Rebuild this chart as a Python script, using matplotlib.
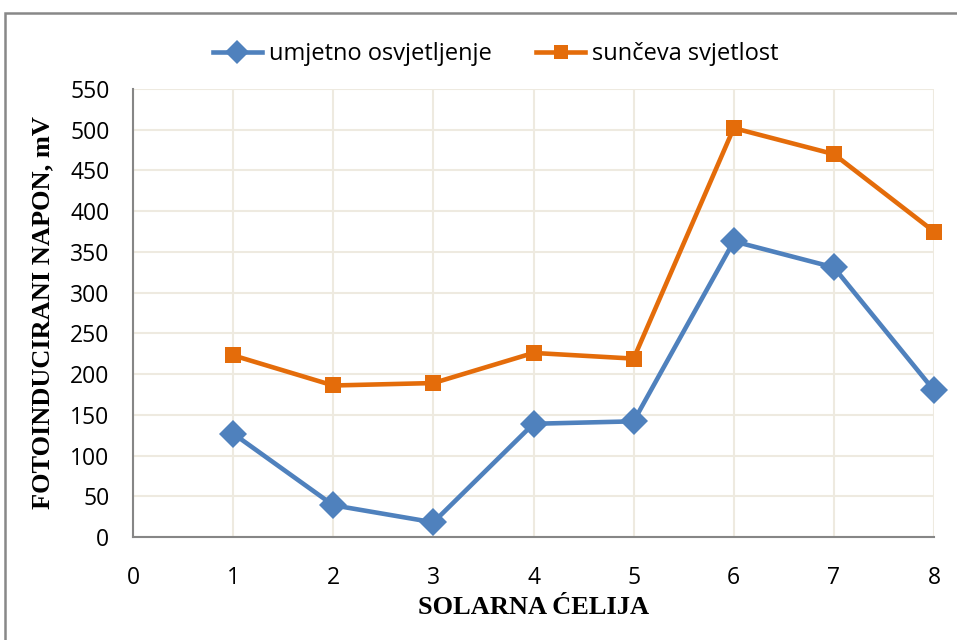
import matplotlib
matplotlib.use("Agg")
import matplotlib.pyplot as plt
from matplotlib.patches import Rectangle

cells = [1, 2, 3, 4, 5, 6, 7, 8]
umjetno = [127, 39, 18, 139, 142, 363, 331, 180]
suncevo = [223, 186, 189, 226, 219, 502, 470, 375]
x_ticks = [0, 1, 2, 3, 4, 5, 6, 7, 8]
y_ticks = list(range(0, 551, 50))

sans = ["Open Sans", "DejaVu Sans"]
serif = ["Liberation Serif", "DejaVu Serif"]

fig = plt.figure(figsize=(9.57, 6.4), dpi=100)
ax = fig.add_axes([133/957, 1 - 537/640, (934-133)/957, (537-89)/640])

blue = "#4F81BD"
orange = "#E46C0A"
ax.plot(cells, umjetno, color=blue, lw=3.3, marker="D", markersize=14,
        markeredgewidth=0, label="umjetno osvjetljenje", zorder=3,
        clip_on=False)
ax.plot(cells, suncevo, color=orange, lw=3.3, marker="s", markersize=12,
        markeredgewidth=0, label="sunčeva svjetlost", zorder=3,
        clip_on=False)

ax.set_xlim(0, 8)
ax.set_ylim(0, 550)
ax.set_xticks(x_ticks)
ax.set_yticks(y_ticks)
ax.grid(True, color="#EEEAE0", lw=1.5, zorder=0)
ax.set_axisbelow(True)
for s in ["top", "right"]:
    ax.spines[s].set_visible(False)
for s in ["left", "bottom"]:
    ax.spines[s].set_color("#868686")
    ax.spines[s].set_linewidth(1.5)
ax.tick_params(length=0)
ax.tick_params(axis="y", pad=17)
ax.tick_params(axis="x", pad=21)
for lab in ax.get_xticklabels() + ax.get_yticklabels():
    lab.set_fontfamily(sans)
    lab.set_fontsize(16.5)

fig.text((133 + 934) / 2 / 957, 1 - 608/640, "SOLARNA ĆELIJA",
         fontfamily=serif, fontweight="bold", fontsize=19,
         ha="center", va="center")
fig.text(43/957, 1 - 313/640, "FOTOINDUCIRANI NAPON, mV",
         fontfamily=serif, fontweight="bold", fontsize=19,
         ha="center", va="center", rotation=90)

leg = fig.legend(loc="center", bbox_to_anchor=(0.518, 1 - 54/640), ncol=2,
                 frameon=False, prop={"family": sans, "size": 17},
                 columnspacing=1.85, handlelength=2.1, handletextpad=0.3,
                 markerscale=0.85)

fig.patches.append(Rectangle((5/957, -0.05), 1.0, 1 - 13/640 + 0.05,
                             transform=fig.transFigure, fill=False,
                             edgecolor="#888888", lw=1.8))

fig.savefig("out.png", dpi=100)
